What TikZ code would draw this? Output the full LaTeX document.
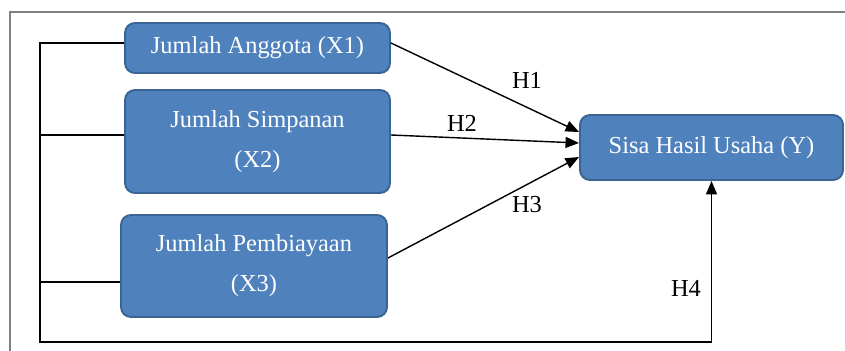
\documentclass[tikz,border=0pt]{standalone}
\usepackage{fontspec}
\setmainfont{Liberation Serif}
\usetikzlibrary{arrows.meta}
\definecolor{boxblue}{HTML}{4F81BD}
\definecolor{boxedge}{HTML}{3A6491}
\tikzset{
	var/.style={draw=boxedge, fill=boxblue, line width=1.1pt, rounded corners=0.2cm, text=white, align=center, inner sep=0pt, font=\fontsize{13.9}{22.7}\selectfont},
	hyp/.style={font=\fontsize{13.9}{16}\selectfont},
	arr/.style={line width=0.8pt, -{Triangle[length=0.27cm,width=0.22cm]}},
}

\begin{document}
\begin{tikzpicture}
	\useasboundingbox (0,0) rectangle (16.9,7.02);
	\draw[gray,line width=0.9pt] (0.2,0) -- (0.2,6.78) -- (16.9,6.78);
	
	\node[var,minimum width=5.3cm,minimum height=1cm] (x1) at (5.15,6.06) {Jumlah Anggota (X1)};
	\node[var,minimum width=5.3cm,minimum height=2.06cm] (x2) at (5.15,4.19) {Jumlah Simpanan\\(X2)};
	\node[var,minimum width=5.32cm,minimum height=2.04cm] (x3) at (5.08,1.70) {Jumlah Pembiayaan\\(X3)};
	\node[var,minimum width=5.26cm,minimum height=1.3cm] (y) at (14.23,4.07) {Sisa Hasil Usaha (Y)};
	
	\draw[arr] ([yshift=0.1cm]x1.east) -- ([yshift=0.31cm]y.west);
	\draw[arr] ([yshift=0.13cm]x2.east) -- ([yshift=0.09cm]y.west);
	\draw[arr] ([yshift=0.16cm]x3.east) -- ([yshift=-0.19cm]y.west);
	
	\coordinate (corner) at (0.8,0.18);
	\draw[arr] ([yshift=0.1cm]x1.west) -| (corner) -| (y.south);
	\draw[line width=0.8pt] ([yshift=0.13cm]x2.west) -- ++(-1.7,0);
	\draw[line width=0.8pt] ([yshift=-0.32cm]x3.west) -- ++(-1.62,0);
	\draw[line width=1.6pt] (0.8,4.52) -- (0.8,1.38);
	
	\node[hyp] (h1) at (10.54,5.42) {H1};
	\node[hyp] (h2) at (9.24,4.56) {H2};
	\node[hyp] (h3) at (10.54,2.92) {H3};
	\node[hyp] (h4) at (13.72,1.26) {H4};
\end{tikzpicture}
\end{document}
